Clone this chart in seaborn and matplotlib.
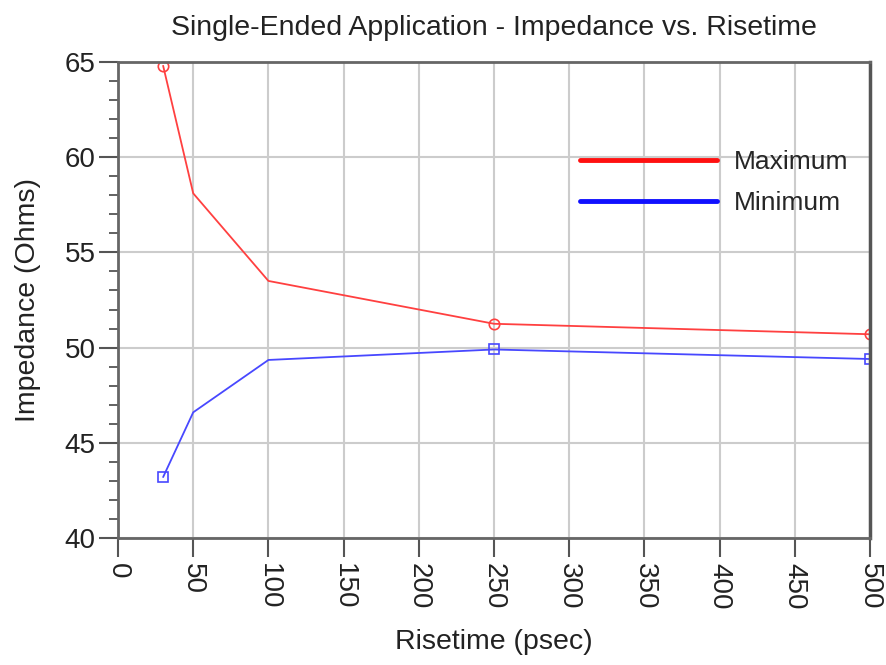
import matplotlib
matplotlib.use("Agg")
import matplotlib.pyplot as plt
from matplotlib.lines import Line2D
from matplotlib.ticker import MultipleLocator
import seaborn as sns
import pandas as pd

risetime = [30, 50, 100, 250, 500]
maximum = [64.8, 58.1, 53.5, 51.25, 50.7]
minimum = [43.2, 46.6, 49.35, 49.9, 49.4]
series_names = ["Maximum", "Minimum"]
x_ticks = [0, 50, 100, 150, 200, 250, 300, 350, 400, 450, 500]
y_ticks = [40, 45, 50, 55, 60, 65]

sns.set_theme(style="white")
plt.rcParams['font.family'] = ['Liberation Sans', 'DejaVu Sans']

df_max = pd.DataFrame({"Risetime": risetime, "Impedance": maximum})
df_min = pd.DataFrame({"Risetime": risetime, "Impedance": minimum})

fig = plt.figure(figsize=(8.86, 6.65), dpi=100)
ax = fig.add_axes([0.1332, 0.191, 0.982 - 0.1332, 0.9068 - 0.191])

mark_idx = [0, 3, 4]
sns.lineplot(data=df_max, x="Risetime", y="Impedance", ax=ax, color="#ff4040",
             lw=1.3, marker="o", markevery=mark_idx, markersize=7.5,
             markerfacecolor="none", markeredgecolor="#ff4040", markeredgewidth=1.2)
sns.lineplot(data=df_min, x="Risetime", y="Impedance", ax=ax, color="#4848ff",
             lw=1.3, marker="s", markevery=mark_idx, markersize=7.5,
             markerfacecolor="none", markeredgecolor="#4848ff", markeredgewidth=1.2)

ax.set_xlim(0, 500)
ax.set_ylim(40, 65)
ax.set_xticks(x_ticks)
ax.set_yticks(y_ticks)
ax.yaxis.set_minor_locator(MultipleLocator(1))
ax.grid(True, which="major", color="#cccccc", lw=1.5)
ax.set_axisbelow(True)

for s in ax.spines.values():
    s.set_color("#666666")
    s.set_linewidth(2)
    s.set_visible(True)
ax.spines["right"].set_color("#555555")
ax.spines["right"].set_linewidth(2.5)

ax.tick_params(axis="both", which="major", direction="out", length=14, width=1.5,
               color="#555555", labelsize=20, labelcolor="#222222", pad=2,
               bottom=True, left=True)
ax.tick_params(axis="y", which="minor", direction="out", length=6.5, width=1.3,
               color="#555555", left=True)
ax.tick_params(axis="x", which="major", labelrotation=270, pad=4)
for lbl in ax.get_xticklabels():
    lbl.set_va("top")
    lbl.set_ha("center")

ax.set_xlabel("Risetime (psec)", fontsize=20.5, color="#222222", labelpad=14)
ax.set_ylabel("Impedance (Ohms)", fontsize=20.5, color="#222222")
ax.yaxis.set_label_coords(-0.102, 0.5)
ax.set_title("Single-Ended Application - Impedance vs. Risetime", fontsize=20.5,
             color="#222222", pad=19.5)

handles = [Line2D([0], [0], color="#ff1010", lw=3.5),
           Line2D([0], [0], color="#1010ff", lw=3.5)]
ax.legend(handles, series_names, loc="upper left", bbox_to_anchor=(0.614, 0.815),
          frameon=False, fontsize=19, handlelength=5.2, handletextpad=0.65,
          labelspacing=0.65, borderpad=0, borderaxespad=0)

fig.savefig("out.png", dpi=100)
